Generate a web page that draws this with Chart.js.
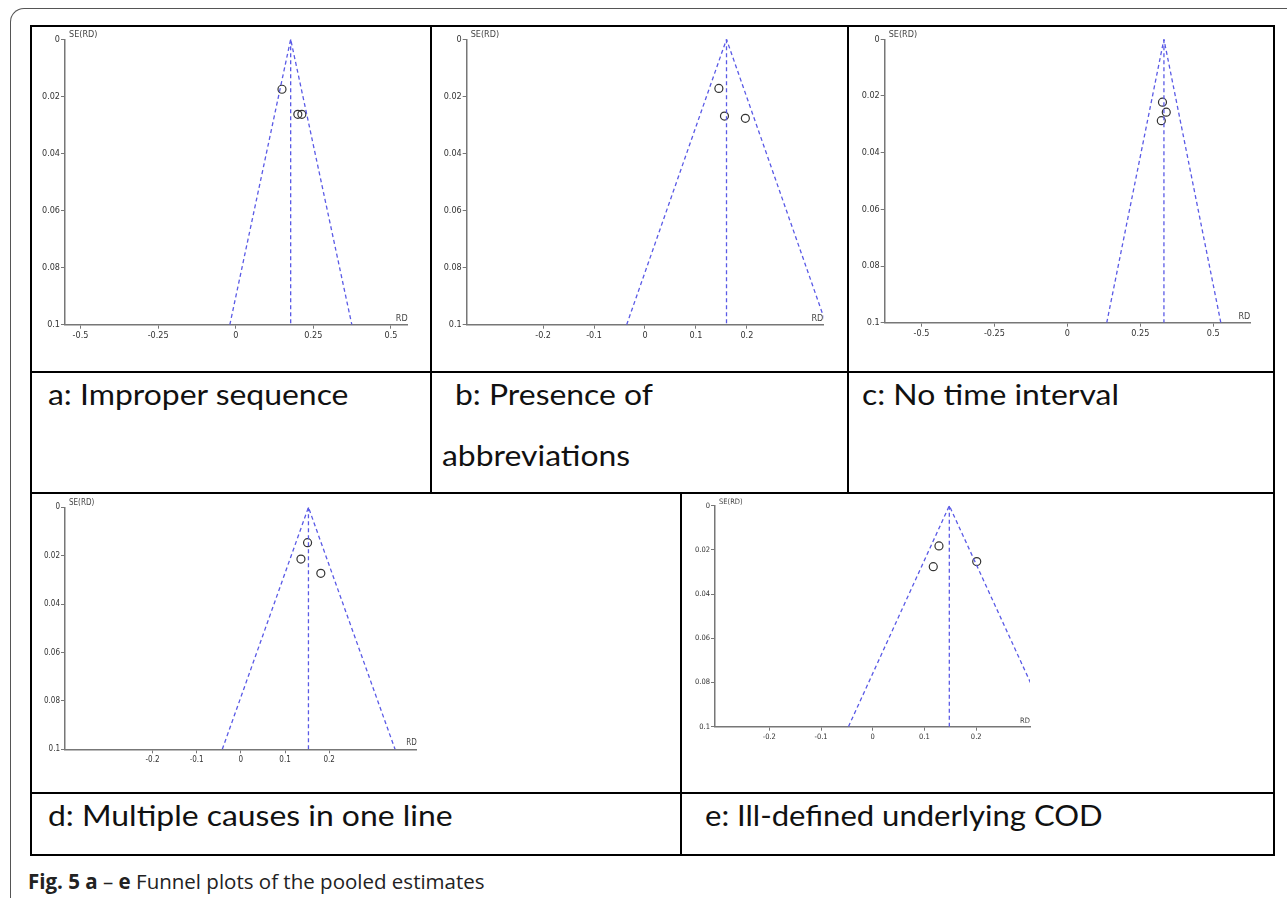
<!DOCTYPE html>
<html>
<head>
<meta charset="utf-8">
<script src="https://cdn.jsdelivr.net/npm/chart.js@4.4.1/dist/chart.umd.min.js"></script>
<style>
  html, body { margin:0; padding:0; background:#fff; width:1287px; height:898px; overflow:hidden; }
  #frame { position:absolute; left:10px; top:8px; width:1300px; height:1000px;
           border-left:1.5px solid #555; border-top:1.5px solid #555; border-top-left-radius:14px; }
  .hl { position:absolute; height:2px; background:#000; }
  .vl { position:absolute; width:2px; background:#000; }
  canvas { position:absolute; }
  .lab { position:absolute; font-family:Lato, "Open Sans", sans-serif; font-size:29px; color:#111;
         white-space:nowrap; transform-origin:0 50%; transform:scaleX(1.1); line-height:1; }
  .lab.n { transform:scaleX(1.07); }
  #cap { position:absolute; left:28px; top:867px; font-family:"Open Sans", sans-serif; font-size:20.5px; color:#222; white-space:nowrap; }
  #cap b { font-weight:700; }
</style>
</head>
<body>
<div id="frame"></div>

<!-- table lines -->
<div class="hl" style="left:30px; top:25px; width:1245px;"></div>
<div class="hl" style="left:30px; top:371px; width:1245px;"></div>
<div class="hl" style="left:30px; top:492px; width:1245px;"></div>
<div class="hl" style="left:30px; top:792px; width:1245px;"></div>
<div class="hl" style="left:30px; top:854px; width:1245px;"></div>
<div class="vl" style="left:30px; top:25px; height:831px;"></div>
<div class="vl" style="left:1273px; top:25px; height:831px;"></div>
<div class="vl" style="left:430px; top:25px; height:469px;"></div>
<div class="vl" style="left:847px; top:25px; height:469px;"></div>
<div class="vl" style="left:680px; top:492px; height:364px;"></div>

<canvas id="pa"></canvas>
<canvas id="pb"></canvas>
<canvas id="pc"></canvas>
<canvas id="pd"></canvas>
<canvas id="pe"></canvas>

<div class="lab" style="left:48px; top:379px;">a: Improper sequence</div>
<div class="lab" style="left:455px; top:379px;">b: Presence of</div>
<div class="lab" style="left:442px; top:440px;">abbreviations</div>
<div class="lab" style="left:862px; top:379px;">c: No time interval</div>
<div class="lab" style="left:48px; top:800px;">d: Multiple causes in one line</div>
<div class="lab n" style="left:705px; top:800px;">e: Ill-defined underlying COD</div>

<div id="cap"><b>Fig. 5</b> <b>a</b> – <b>e</b> Funnel plots of the pooled estimates</div>

<script>
// ---------------- data ----------------
const panelNames = ["a", "b", "c", "d", "e"];
const yTicks = [0, 0.02, 0.04, 0.06, 0.08, 0.1];
const xTicksWide = [-0.5, -0.25, 0, 0.25, 0.5];
const xTicksNarrow = [-0.2, -0.1, 0, 0.1, 0.2];

// study risk differences (RD) and standard errors (SE)
const rdA = [0.149, 0.200, 0.213];
const seA = [0.0175, 0.0263, 0.0263];
const rdB = [0.145, 0.156, 0.197];
const seB = [0.0172, 0.0269, 0.0277];
const rdC = [0.326, 0.339, 0.322];
const seC = [0.0222, 0.0257, 0.0287];
const rdD = [0.151, 0.136, 0.181];
const seD = [0.0146, 0.0214, 0.0273];
const rdE = [0.128, 0.117, 0.201];
const seE = [0.0182, 0.0276, 0.0253];

// pooled estimate and funnel limits at SE = 0.1
const pooledRD  = [0.177, 0.160, 0.331, 0.153, 0.148];
const funnelLow = [-0.019, -0.036, 0.135, -0.042, -0.047];
const funnelHigh = [0.374, 0.356, 0.526, 0.349, 0.344];
const seMax = 0.1;

// x-axis ranges
const xMin = [-0.55, -0.35, -0.626, -0.398, -0.305];
const xMax = [0.554, 0.35, 0.627, 0.398, 0.304];

// ---------------- layout (canvas box and plot area, px) ----------------
const layout = [
  { id:"pa", cx:32,  cy:27,  cw:397, ch:343, L:65,    R:407.7,  T:39.3,  B:324.7, xt:xTicksWide,   fs:9 },
  { id:"pb", cx:433, cy:27,  cw:413, ch:343, L:466.7, R:823.3,  T:39.3,  B:324.7, xt:xTicksNarrow, fs:9 },
  { id:"pc", cx:850, cy:27,  cw:422, ch:343, L:884.7, R:1250.3, T:39.3,  B:322.7, xt:xTicksWide,   fs:9 },
  { id:"pd", cx:32,  cy:494, cw:647, ch:297, L:65,    R:416.7,  T:507.3, B:749.3, xt:xTicksNarrow, fs:8 },
  { id:"pe", cx:683, cy:494, cw:589, ch:297, L:715,   R:1030,   T:505.7, B:726.7, xt:xTicksNarrow, fs:7.5 }
];
const rds = [rdA, rdB, rdC, rdD, rdE];
const ses = [seA, seB, seC, seD, seE];

const fmt = v => String(+(+v).toFixed(3));
const FONT = "'Liberation Sans Narrow', 'DejaVu Sans Condensed', 'Liberation Sans', Arial, sans-serif";

const titlePlugin = {
  id: "axisTitles",
  afterDraw(chart) {
    const { ctx, chartArea } = chart;
    const fs = chart.options.plugins.axisTitles.fs;
    ctx.save();
    ctx.fillStyle = "#444";
    ctx.font = fs + "px " + FONT;
    ctx.textBaseline = "alphabetic";
    ctx.textAlign = "left";
    ctx.fillText("SE(RD)", chartArea.left + 4, chartArea.top - 2);
    ctx.textAlign = "right";
    ctx.fillText("RD", chartArea.right, chartArea.bottom - 4);
    ctx.restore();
  }
};

layout.forEach((p, i) => {
  const cv = document.getElementById(p.id);
  cv.width = p.cw; cv.height = p.ch;
  cv.style.left = p.cx + "px"; cv.style.top = p.cy + "px";
  cv.style.width = p.cw + "px"; cv.style.height = p.ch + "px";
  const yW = p.L - p.cx, padTop = p.T - p.cy, padRight = (p.cx + p.cw) - p.R, xH = (p.cy + p.ch) - p.B;
  const blue = "#5a5ae6";
  new Chart(cv, {
    type: "scatter",
    data: {
      datasets: [
        { type:"line", data:[{x:funnelLow[i], y:seMax}, {x:pooledRD[i], y:0}, {x:funnelHigh[i], y:seMax}],
          borderColor: blue, borderWidth: 1.3, borderDash:[4,3], pointRadius:0, fill:false, tension:0 },
        { type:"line", data:[{x:pooledRD[i], y:0}, {x:pooledRD[i], y:seMax}],
          borderColor: blue, borderWidth: 1.3, borderDash:[4,3], pointRadius:0, fill:false, tension:0 },
        { data: rds[i].map((r, k) => ({x:r, y:ses[i][k]})),
          pointStyle:"circle", pointRadius:4, pointBorderWidth:1.2,
          pointBorderColor:"#333", pointBackgroundColor:"rgba(0,0,0,0)", showLine:false }
      ]
    },
    options: {
      responsive:false, animation:false, devicePixelRatio:1,
      layout: { padding: { top: padTop, right: padRight, left: 0, bottom: 0 } },
      plugins: { legend:{display:false}, tooltip:{enabled:false}, axisTitles:{ fs: p.fs } },
      scales: {
        x: {
          type:"linear", position:"bottom", min:xMin[i], max:xMax[i],
          afterBuildTicks: s => { s.ticks = p.xt.map(v => ({value:v})); },
          afterFit: s => { s.height = xH; },
          ticks: { callback: v => fmt(v), color:"#333", font:{ family:FONT, size:p.fs }, padding:2, maxRotation:0, autoSkip:false },
          grid: { display:true, drawOnChartArea:false, drawTicks:true, tickLength:4, color:"#777", lineWidth:1 },
          border: { display:true, color:"#777", width:1.5 }
        },
        y: {
          type:"linear", position:"left", reverse:true, min:0, max:seMax,
          afterBuildTicks: s => { s.ticks = yTicks.map(v => ({value:v})); },
          afterFit: s => { s.width = yW; },
          ticks: { callback: v => fmt(v), color:"#333", font:{ family:FONT, size:p.fs }, padding:1, autoSkip:false },
          grid: { display:true, drawOnChartArea:false, drawTicks:true, tickLength:4, color:"#777", lineWidth:1 },
          border: { display:true, color:"#777", width:1.5 }
        }
      }
    },
    plugins:[titlePlugin]
  });
});
</script>
</body>
</html>
